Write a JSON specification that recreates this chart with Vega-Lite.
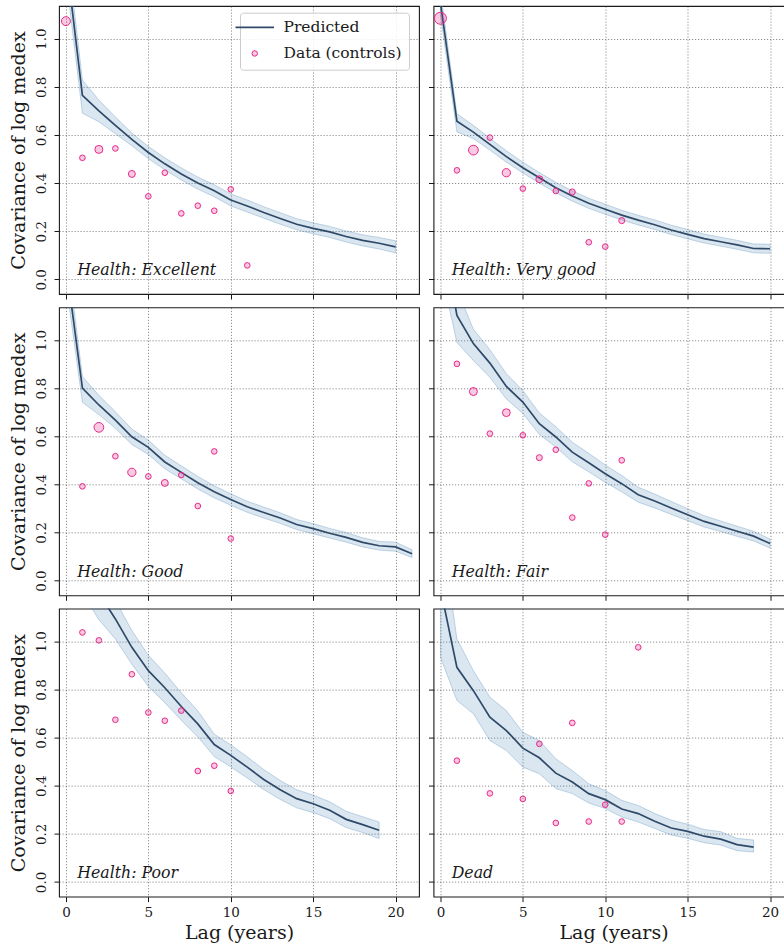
{
"$schema": "https://vega.github.io/schema/vega-lite/v6.json",
"padding": {"left": 8, "top": 5, "right": 0, "bottom": 0},
"background": "white",
"datasets": {
"pred": [
{"panel":"Excellent","lag":0,"cov":1.34,"lo":1.26,"hi":1.42},
{"panel":"Excellent","lag":1,"cov":0.765,"lo":0.69,"hi":0.828},
{"panel":"Excellent","lag":2,"cov":0.70,"lo":0.655,"hi":0.745},
{"panel":"Excellent","lag":3,"cov":0.64,"lo":0.605,"hi":0.675},
{"panel":"Excellent","lag":4,"cov":0.582,"lo":0.555,"hi":0.608},
{"panel":"Excellent","lag":5,"cov":0.527,"lo":0.502,"hi":0.552},
{"panel":"Excellent","lag":6,"cov":0.48,"lo":0.455,"hi":0.505},
{"panel":"Excellent","lag":7,"cov":0.438,"lo":0.413,"hi":0.463},
{"panel":"Excellent","lag":8,"cov":0.40,"lo":0.375,"hi":0.425},
{"panel":"Excellent","lag":9,"cov":0.368,"lo":0.343,"hi":0.393},
{"panel":"Excellent","lag":10,"cov":0.33,"lo":0.305,"hi":0.355},
{"panel":"Excellent","lag":11,"cov":0.305,"lo":0.28,"hi":0.33},
{"panel":"Excellent","lag":12,"cov":0.278,"lo":0.254,"hi":0.302},
{"panel":"Excellent","lag":13,"cov":0.253,"lo":0.229,"hi":0.277},
{"panel":"Excellent","lag":14,"cov":0.229,"lo":0.206,"hi":0.252},
{"panel":"Excellent","lag":15,"cov":0.212,"lo":0.189,"hi":0.235},
{"panel":"Excellent","lag":16,"cov":0.197,"lo":0.174,"hi":0.22},
{"panel":"Excellent","lag":17,"cov":0.178,"lo":0.155,"hi":0.201},
{"panel":"Excellent","lag":18,"cov":0.162,"lo":0.139,"hi":0.185},
{"panel":"Excellent","lag":19,"cov":0.15,"lo":0.126,"hi":0.174},
{"panel":"Excellent","lag":20,"cov":0.135,"lo":0.11,"hi":0.16},
{"panel":"Very good","lag":0,"cov":1.15,"lo":1.1,"hi":1.2},
{"panel":"Very good","lag":1,"cov":0.657,"lo":0.613,"hi":0.688},
{"panel":"Very good","lag":2,"cov":0.612,"lo":0.585,"hi":0.64},
{"panel":"Very good","lag":3,"cov":0.561,"lo":0.537,"hi":0.586},
{"panel":"Very good","lag":4,"cov":0.51,"lo":0.487,"hi":0.534},
{"panel":"Very good","lag":5,"cov":0.464,"lo":0.442,"hi":0.487},
{"panel":"Very good","lag":6,"cov":0.422,"lo":0.4,"hi":0.444},
{"panel":"Very good","lag":7,"cov":0.381,"lo":0.36,"hi":0.403},
{"panel":"Very good","lag":8,"cov":0.346,"lo":0.325,"hi":0.368},
{"panel":"Very good","lag":9,"cov":0.316,"lo":0.295,"hi":0.337},
{"panel":"Very good","lag":10,"cov":0.291,"lo":0.27,"hi":0.312},
{"panel":"Very good","lag":11,"cov":0.267,"lo":0.247,"hi":0.287},
{"panel":"Very good","lag":12,"cov":0.246,"lo":0.226,"hi":0.266},
{"panel":"Very good","lag":13,"cov":0.227,"lo":0.207,"hi":0.247},
{"panel":"Very good","lag":14,"cov":0.205,"lo":0.186,"hi":0.225},
{"panel":"Very good","lag":15,"cov":0.187,"lo":0.168,"hi":0.207},
{"panel":"Very good","lag":16,"cov":0.169,"lo":0.151,"hi":0.188},
{"panel":"Very good","lag":17,"cov":0.156,"lo":0.138,"hi":0.175},
{"panel":"Very good","lag":18,"cov":0.143,"lo":0.125,"hi":0.162},
{"panel":"Very good","lag":19,"cov":0.128,"lo":0.11,"hi":0.147},
{"panel":"Very good","lag":20,"cov":0.127,"lo":0.108,"hi":0.146},
{"panel":"Good","lag":0,"cov":1.32,"lo":1.24,"hi":1.4},
{"panel":"Good","lag":1,"cov":0.8,"lo":0.741,"hi":0.848},
{"panel":"Good","lag":2,"cov":0.73,"lo":0.69,"hi":0.77},
{"panel":"Good","lag":3,"cov":0.667,"lo":0.633,"hi":0.702},
{"panel":"Good","lag":4,"cov":0.598,"lo":0.566,"hi":0.63},
{"panel":"Good","lag":5,"cov":0.554,"lo":0.524,"hi":0.584},
{"panel":"Good","lag":6,"cov":0.493,"lo":0.465,"hi":0.521},
{"panel":"Good","lag":7,"cov":0.45,"lo":0.423,"hi":0.477},
{"panel":"Good","lag":8,"cov":0.407,"lo":0.381,"hi":0.433},
{"panel":"Good","lag":9,"cov":0.369,"lo":0.344,"hi":0.394},
{"panel":"Good","lag":10,"cov":0.337,"lo":0.313,"hi":0.361},
{"panel":"Good","lag":11,"cov":0.307,"lo":0.284,"hi":0.33},
{"panel":"Good","lag":12,"cov":0.283,"lo":0.26,"hi":0.306},
{"panel":"Good","lag":13,"cov":0.26,"lo":0.238,"hi":0.282},
{"panel":"Good","lag":14,"cov":0.233,"lo":0.212,"hi":0.254},
{"panel":"Good","lag":15,"cov":0.216,"lo":0.195,"hi":0.237},
{"panel":"Good","lag":16,"cov":0.197,"lo":0.177,"hi":0.217},
{"panel":"Good","lag":17,"cov":0.18,"lo":0.16,"hi":0.2},
{"panel":"Good","lag":18,"cov":0.159,"lo":0.14,"hi":0.178},
{"panel":"Good","lag":19,"cov":0.145,"lo":0.127,"hi":0.163},
{"panel":"Good","lag":20,"cov":0.14,"lo":0.122,"hi":0.16},
{"panel":"Good","lag":21,"cov":0.112,"lo":0.096,"hi":0.128},
{"panel":"Fair","lag":0,"cov":1.5,"lo":1.3,"hi":1.7},
{"panel":"Fair","lag":1,"cov":1.102,"lo":0.99,"hi":1.21},
{"panel":"Fair","lag":2,"cov":0.985,"lo":0.915,"hi":1.045},
{"panel":"Fair","lag":3,"cov":0.904,"lo":0.845,"hi":0.96},
{"panel":"Fair","lag":4,"cov":0.807,"lo":0.755,"hi":0.86},
{"panel":"Fair","lag":5,"cov":0.742,"lo":0.695,"hi":0.79},
{"panel":"Fair","lag":6,"cov":0.652,"lo":0.608,"hi":0.697},
{"panel":"Fair","lag":7,"cov":0.597,"lo":0.555,"hi":0.64},
{"panel":"Fair","lag":8,"cov":0.534,"lo":0.494,"hi":0.575},
{"panel":"Fair","lag":9,"cov":0.49,"lo":0.452,"hi":0.529},
{"panel":"Fair","lag":10,"cov":0.444,"lo":0.408,"hi":0.481},
{"panel":"Fair","lag":11,"cov":0.403,"lo":0.369,"hi":0.437},
{"panel":"Fair","lag":12,"cov":0.357,"lo":0.326,"hi":0.388},
{"panel":"Fair","lag":13,"cov":0.331,"lo":0.302,"hi":0.36},
{"panel":"Fair","lag":14,"cov":0.302,"lo":0.275,"hi":0.329},
{"panel":"Fair","lag":15,"cov":0.274,"lo":0.249,"hi":0.299},
{"panel":"Fair","lag":16,"cov":0.246,"lo":0.223,"hi":0.27},
{"panel":"Fair","lag":17,"cov":0.226,"lo":0.204,"hi":0.248},
{"panel":"Fair","lag":18,"cov":0.205,"lo":0.184,"hi":0.226},
{"panel":"Fair","lag":19,"cov":0.185,"lo":0.165,"hi":0.205},
{"panel":"Fair","lag":20,"cov":0.154,"lo":0.135,"hi":0.173},
{"panel":"Poor","lag":0,"cov":1.6,"lo":1.45,"hi":1.75},
{"panel":"Poor","lag":1,"cov":1.32,"lo":1.2,"hi":1.44},
{"panel":"Poor","lag":2,"cov":1.2,"lo":1.09,"hi":1.31},
{"panel":"Poor","lag":3,"cov":1.093,"lo":1.01,"hi":1.17},
{"panel":"Poor","lag":4,"cov":0.975,"lo":0.905,"hi":1.045},
{"panel":"Poor","lag":5,"cov":0.878,"lo":0.812,"hi":0.942},
{"panel":"Poor","lag":6,"cov":0.807,"lo":0.745,"hi":0.868},
{"panel":"Poor","lag":7,"cov":0.729,"lo":0.672,"hi":0.786},
{"panel":"Poor","lag":8,"cov":0.657,"lo":0.603,"hi":0.711},
{"panel":"Poor","lag":9,"cov":0.571,"lo":0.521,"hi":0.614},
{"panel":"Poor","lag":10,"cov":0.526,"lo":0.478,"hi":0.57},
{"panel":"Poor","lag":11,"cov":0.477,"lo":0.432,"hi":0.52},
{"panel":"Poor","lag":12,"cov":0.426,"lo":0.384,"hi":0.467},
{"panel":"Poor","lag":13,"cov":0.383,"lo":0.343,"hi":0.422},
{"panel":"Poor","lag":14,"cov":0.346,"lo":0.308,"hi":0.383},
{"panel":"Poor","lag":15,"cov":0.325,"lo":0.288,"hi":0.361},
{"panel":"Poor","lag":16,"cov":0.298,"lo":0.263,"hi":0.333},
{"panel":"Poor","lag":17,"cov":0.26,"lo":0.226,"hi":0.294},
{"panel":"Poor","lag":18,"cov":0.238,"lo":0.205,"hi":0.271},
{"panel":"Poor","lag":19,"cov":0.215,"lo":0.18,"hi":0.249},
{"panel":"Dead","lag":0,"cov":1.22,"lo":0.934,"hi":1.5},
{"panel":"Dead","lag":1,"cov":0.892,"lo":0.754,"hi":1.01},
{"panel":"Dead","lag":2,"cov":0.795,"lo":0.699,"hi":0.878},
{"panel":"Dead","lag":3,"cov":0.685,"lo":0.588,"hi":0.768},
{"panel":"Dead","lag":4,"cov":0.629,"lo":0.546,"hi":0.712},
{"panel":"Dead","lag":5,"cov":0.556,"lo":0.477,"hi":0.622},
{"panel":"Dead","lag":6,"cov":0.516,"lo":0.45,"hi":0.588},
{"panel":"Dead","lag":7,"cov":0.452,"lo":0.388,"hi":0.512},
{"panel":"Dead","lag":8,"cov":0.415,"lo":0.367,"hi":0.463},
{"panel":"Dead","lag":9,"cov":0.367,"lo":0.328,"hi":0.408},
{"panel":"Dead","lag":10,"cov":0.342,"lo":0.305,"hi":0.38},
{"panel":"Dead","lag":11,"cov":0.303,"lo":0.27,"hi":0.339},
{"panel":"Dead","lag":12,"cov":0.284,"lo":0.249,"hi":0.318},
{"panel":"Dead","lag":13,"cov":0.252,"lo":0.222,"hi":0.284},
{"panel":"Dead","lag":14,"cov":0.224,"lo":0.195,"hi":0.257},
{"panel":"Dead","lag":15,"cov":0.21,"lo":0.181,"hi":0.24},
{"panel":"Dead","lag":16,"cov":0.19,"lo":0.163,"hi":0.218},
{"panel":"Dead","lag":17,"cov":0.178,"lo":0.153,"hi":0.209},
{"panel":"Dead","lag":18,"cov":0.155,"lo":0.13,"hi":0.181},
{"panel":"Dead","lag":19,"cov":0.145,"lo":0.124,"hi":0.174}
],
"obs": [
{"panel":"Excellent","lag":0,"cov":1.073,"n":5},
{"panel":"Excellent","lag":1,"cov":0.505,"n":2},
{"panel":"Excellent","lag":2,"cov":0.54,"n":4},
{"panel":"Excellent","lag":3,"cov":0.544,"n":2},
{"panel":"Excellent","lag":4,"cov":0.438,"n":3},
{"panel":"Excellent","lag":5,"cov":0.345,"n":2},
{"panel":"Excellent","lag":6,"cov":0.443,"n":2},
{"panel":"Excellent","lag":7,"cov":0.274,"n":2},
{"panel":"Excellent","lag":8,"cov":0.306,"n":2},
{"panel":"Excellent","lag":9,"cov":0.285,"n":2},
{"panel":"Excellent","lag":10,"cov":0.374,"n":2},
{"panel":"Excellent","lag":11,"cov":0.058,"n":2},
{"panel":"Very good","lag":0,"cov":1.085,"n":9},
{"panel":"Very good","lag":1,"cov":0.453,"n":2},
{"panel":"Very good","lag":2,"cov":0.537,"n":5.9},
{"panel":"Very good","lag":3,"cov":0.589,"n":2},
{"panel":"Very good","lag":4,"cov":0.443,"n":4.3},
{"panel":"Very good","lag":5,"cov":0.377,"n":2},
{"panel":"Very good","lag":6,"cov":0.416,"n":3},
{"panel":"Very good","lag":7,"cov":0.367,"n":2},
{"panel":"Very good","lag":8,"cov":0.363,"n":2.3},
{"panel":"Very good","lag":9,"cov":0.154,"n":2},
{"panel":"Very good","lag":10,"cov":0.136,"n":2},
{"panel":"Very good","lag":11,"cov":0.244,"n":2.3},
{"panel":"Good","lag":1,"cov":0.392,"n":2},
{"panel":"Good","lag":2,"cov":0.637,"n":5.9},
{"panel":"Good","lag":3,"cov":0.517,"n":2},
{"panel":"Good","lag":4,"cov":0.45,"n":4.3},
{"panel":"Good","lag":5,"cov":0.433,"n":2},
{"panel":"Good","lag":6,"cov":0.406,"n":3},
{"panel":"Good","lag":7,"cov":0.439,"n":2},
{"panel":"Good","lag":8,"cov":0.31,"n":2},
{"panel":"Good","lag":9,"cov":0.537,"n":2},
{"panel":"Good","lag":10,"cov":0.175,"n":2},
{"panel":"Fair","lag":1,"cov":0.901,"n":2},
{"panel":"Fair","lag":2,"cov":0.786,"n":4},
{"panel":"Fair","lag":3,"cov":0.611,"n":2},
{"panel":"Fair","lag":4,"cov":0.698,"n":3.8},
{"panel":"Fair","lag":5,"cov":0.604,"n":2},
{"panel":"Fair","lag":6,"cov":0.511,"n":2.3},
{"panel":"Fair","lag":7,"cov":0.544,"n":2},
{"panel":"Fair","lag":8,"cov":0.262,"n":2},
{"panel":"Fair","lag":9,"cov":0.404,"n":2},
{"panel":"Fair","lag":10,"cov":0.191,"n":2},
{"panel":"Fair","lag":11,"cov":0.5,"n":2},
{"panel":"Poor","lag":1,"cov":1.037,"n":2},
{"panel":"Poor","lag":2,"cov":1.004,"n":2},
{"panel":"Poor","lag":3,"cov":0.674,"n":2},
{"panel":"Poor","lag":4,"cov":0.863,"n":2},
{"panel":"Poor","lag":5,"cov":0.704,"n":2},
{"panel":"Poor","lag":6,"cov":0.67,"n":2},
{"panel":"Poor","lag":7,"cov":0.712,"n":2},
{"panel":"Poor","lag":8,"cov":0.461,"n":2},
{"panel":"Poor","lag":9,"cov":0.483,"n":2},
{"panel":"Poor","lag":10,"cov":0.378,"n":2},
{"panel":"Dead","lag":1,"cov":0.504,"n":2},
{"panel":"Dead","lag":3,"cov":0.368,"n":2},
{"panel":"Dead","lag":5,"cov":0.345,"n":2},
{"panel":"Dead","lag":6,"cov":0.574,"n":2},
{"panel":"Dead","lag":7,"cov":0.245,"n":2},
{"panel":"Dead","lag":8,"cov":0.661,"n":2},
{"panel":"Dead","lag":9,"cov":0.251,"n":2},
{"panel":"Dead","lag":10,"cov":0.321,"n":2},
{"panel":"Dead","lag":11,"cov":0.251,"n":2},
{"panel":"Dead","lag":12,"cov":0.975,"n":2}
]
},
"spacing": 5.3,
"vconcat": [
{"hconcat": [
 {"width": 360, "height": 288, "layer": [
  {"data": {"name": "pred"}, "transform": [{"filter": "datum.panel === 'Excellent'"}],
   "mark": {"type": "area", "fill": "#4682b4", "fillOpacity": 0.2, "stroke": "#4682b4", "strokeOpacity": 0.3, "strokeWidth": 1, "clip": true},
   "encoding": {"x": {"field": "lag", "type": "quantitative", "scale": {"domain": [-0.42, 21.42], "nice": false, "zero": false}, "axis": {"values": [0,5,10,15,20], "labels": false, "title": null}},
    "y": {"field": "lo", "type": "quantitative", "scale": {"domain": [-0.061, 1.136], "nice": false, "zero": false}, "axis": {"values": [0,0.2,0.4,0.6,0.8,1.0], "format": ".1f", "title": "Covariance of log medex"}},
    "y2": {"field": "hi"}}},
  {"data": {"name": "pred"}, "transform": [{"filter": "datum.panel === 'Excellent'"}],
   "mark": {"type": "line", "strokeWidth": 1.7, "clip": true},
   "encoding": {"x": {"field": "lag", "type": "quantitative"}, "y": {"field": "cov", "type": "quantitative"},
    "stroke": {"datum": "Predicted", "type": "nominal", "scale": {"domain": ["Predicted", "Data (controls)"], "range": ["#2e4a68", "#e7298a"]},
     "legend": {"title": null, "orient": "none", "legendX": 181, "legendY": 6.7, "labelFont": "DejaVu Serif", "labelFontSize": 15.5, "labelColor": "#1a1a1a", "strokeColor": "#cccccc", "fillColor": "rgba(255,255,255,0.85)", "cornerRadius": 3, "padding": 7, "labelOffset": 21, "rowPadding": 9,
      "encode": {"symbols": {"update": {
        "shape": {"signal": "datum.value === 'Predicted' ? 'stroke' : 'circle'"},
        "size": {"signal": "datum.value === 'Predicted' ? 1480 : 30"},
        "strokeWidth": {"signal": "datum.value === 'Predicted' ? 1.7 : 1"},
        "fill": {"signal": "datum.value === 'Predicted' ? 'transparent' : 'rgba(231,41,138,0.25)'"},
        "opacity": {"value": 1}}}}}}}},
  {"data": {"name": "obs"}, "transform": [{"filter": "datum.panel === 'Excellent'"}],
   "mark": {"type": "point", "shape": "circle", "filled": true, "fill": "#e7298a", "fillOpacity": 0.25, "strokeWidth": 1, "opacity": 1, "clip": true},
   "encoding": {"x": {"field": "lag", "type": "quantitative"}, "y": {"field": "cov", "type": "quantitative"},
    "size": {"field": "n", "type": "quantitative", "scale": {"domain": [0, 10], "range": [0, 160]}, "legend": null},
    "stroke": {"datum": "Data (controls)", "type": "nominal"}}},
  {"data": {"values": [{"label": "Health: Excellent"}]},
   "mark": {"type": "text", "font": "DejaVu Serif", "fontStyle": "italic", "fontSize": 15.8, "align": "left", "baseline": "alphabetic", "color": "#1a1a1a"},
   "encoding": {"x": {"datum": 0.68, "type": "quantitative"}, "y": {"datum": 0.017, "type": "quantitative"}, "text": {"field": "label"}}}
 ]},
 {"width": 360, "height": 288, "layer": [
  {"data": {"name": "pred"}, "transform": [{"filter": "datum.panel === 'Very good'"}],
   "mark": {"type": "area", "fill": "#4682b4", "fillOpacity": 0.2, "stroke": "#4682b4", "strokeOpacity": 0.3, "strokeWidth": 1, "clip": true},
   "encoding": {"x": {"field": "lag", "type": "quantitative", "scale": {"domain": [-0.42, 21.42], "nice": false, "zero": false}, "axis": {"values": [0,5,10,15,20], "labels": false, "title": null}},
    "y": {"field": "lo", "type": "quantitative", "scale": {"domain": [-0.061, 1.136], "nice": false, "zero": false}, "axis": {"values": [0,0.2,0.4,0.6,0.8,1.0], "labels": false, "title": null}},
    "y2": {"field": "hi"}}},
  {"data": {"name": "pred"}, "transform": [{"filter": "datum.panel === 'Very good'"}],
   "mark": {"type": "line", "color": "#2e4a68", "strokeWidth": 1.7, "clip": true},
   "encoding": {"x": {"field": "lag", "type": "quantitative"}, "y": {"field": "cov", "type": "quantitative"}}},
  {"data": {"name": "obs"}, "transform": [{"filter": "datum.panel === 'Very good'"}],
   "mark": {"type": "point", "shape": "circle", "filled": true, "fill": "#e7298a", "fillOpacity": 0.25, "stroke": "#e7298a", "strokeWidth": 1, "opacity": 1, "clip": true},
   "encoding": {"x": {"field": "lag", "type": "quantitative"}, "y": {"field": "cov", "type": "quantitative"},
    "size": {"field": "n", "type": "quantitative", "scale": {"domain": [0, 10], "range": [0, 160]}, "legend": null}}},
  {"data": {"values": [{"label": "Health: Very good"}]},
   "mark": {"type": "text", "font": "DejaVu Serif", "fontStyle": "italic", "fontSize": 15.8, "align": "left", "baseline": "alphabetic", "color": "#1a1a1a"},
   "encoding": {"x": {"datum": 0.68, "type": "quantitative"}, "y": {"datum": 0.017, "type": "quantitative"}, "text": {"field": "label"}}}
 ]}
], "spacing": 6.5},
{"hconcat": [
 {"width": 360, "height": 288, "layer": [
  {"data": {"name": "pred"}, "transform": [{"filter": "datum.panel === 'Good'"}],
   "mark": {"type": "area", "fill": "#4682b4", "fillOpacity": 0.2, "stroke": "#4682b4", "strokeOpacity": 0.3, "strokeWidth": 1, "clip": true},
   "encoding": {"x": {"field": "lag", "type": "quantitative", "scale": {"domain": [-0.42, 21.42], "nice": false, "zero": false}, "axis": {"values": [0,5,10,15,20], "labels": false, "title": null}},
    "y": {"field": "lo", "type": "quantitative", "scale": {"domain": [-0.061, 1.136], "nice": false, "zero": false}, "axis": {"values": [0,0.2,0.4,0.6,0.8,1.0], "format": ".1f", "title": "Covariance of log medex"}},
    "y2": {"field": "hi"}}},
  {"data": {"name": "pred"}, "transform": [{"filter": "datum.panel === 'Good'"}],
   "mark": {"type": "line", "color": "#2e4a68", "strokeWidth": 1.7, "clip": true},
   "encoding": {"x": {"field": "lag", "type": "quantitative"}, "y": {"field": "cov", "type": "quantitative"}}},
  {"data": {"name": "obs"}, "transform": [{"filter": "datum.panel === 'Good'"}],
   "mark": {"type": "point", "shape": "circle", "filled": true, "fill": "#e7298a", "fillOpacity": 0.25, "stroke": "#e7298a", "strokeWidth": 1, "opacity": 1, "clip": true},
   "encoding": {"x": {"field": "lag", "type": "quantitative"}, "y": {"field": "cov", "type": "quantitative"},
    "size": {"field": "n", "type": "quantitative", "scale": {"domain": [0, 10], "range": [0, 160]}, "legend": null}}},
  {"data": {"values": [{"label": "Health: Good"}]},
   "mark": {"type": "text", "font": "DejaVu Serif", "fontStyle": "italic", "fontSize": 15.8, "align": "left", "baseline": "alphabetic", "color": "#1a1a1a"},
   "encoding": {"x": {"datum": 0.68, "type": "quantitative"}, "y": {"datum": 0.017, "type": "quantitative"}, "text": {"field": "label"}}}
 ]},
 {"width": 360, "height": 288, "layer": [
  {"data": {"name": "pred"}, "transform": [{"filter": "datum.panel === 'Fair'"}],
   "mark": {"type": "area", "fill": "#4682b4", "fillOpacity": 0.2, "stroke": "#4682b4", "strokeOpacity": 0.3, "strokeWidth": 1, "clip": true},
   "encoding": {"x": {"field": "lag", "type": "quantitative", "scale": {"domain": [-0.42, 21.42], "nice": false, "zero": false}, "axis": {"values": [0,5,10,15,20], "labels": false, "title": null}},
    "y": {"field": "lo", "type": "quantitative", "scale": {"domain": [-0.061, 1.136], "nice": false, "zero": false}, "axis": {"values": [0,0.2,0.4,0.6,0.8,1.0], "labels": false, "title": null}},
    "y2": {"field": "hi"}}},
  {"data": {"name": "pred"}, "transform": [{"filter": "datum.panel === 'Fair'"}],
   "mark": {"type": "line", "color": "#2e4a68", "strokeWidth": 1.7, "clip": true},
   "encoding": {"x": {"field": "lag", "type": "quantitative"}, "y": {"field": "cov", "type": "quantitative"}}},
  {"data": {"name": "obs"}, "transform": [{"filter": "datum.panel === 'Fair'"}],
   "mark": {"type": "point", "shape": "circle", "filled": true, "fill": "#e7298a", "fillOpacity": 0.25, "stroke": "#e7298a", "strokeWidth": 1, "opacity": 1, "clip": true},
   "encoding": {"x": {"field": "lag", "type": "quantitative"}, "y": {"field": "cov", "type": "quantitative"},
    "size": {"field": "n", "type": "quantitative", "scale": {"domain": [0, 10], "range": [0, 160]}, "legend": null}}},
  {"data": {"values": [{"label": "Health: Fair"}]},
   "mark": {"type": "text", "font": "DejaVu Serif", "fontStyle": "italic", "fontSize": 15.8, "align": "left", "baseline": "alphabetic", "color": "#1a1a1a"},
   "encoding": {"x": {"datum": 0.68, "type": "quantitative"}, "y": {"datum": 0.017, "type": "quantitative"}, "text": {"field": "label"}}}
 ]}
], "spacing": 6.5},
{"hconcat": [
 {"width": 360, "height": 288, "layer": [
  {"data": {"name": "pred"}, "transform": [{"filter": "datum.panel === 'Poor'"}],
   "mark": {"type": "area", "fill": "#4682b4", "fillOpacity": 0.2, "stroke": "#4682b4", "strokeOpacity": 0.3, "strokeWidth": 1, "clip": true},
   "encoding": {"x": {"field": "lag", "type": "quantitative", "scale": {"domain": [-0.42, 21.42], "nice": false, "zero": false}, "axis": {"values": [0,5,10,15,20], "title": "Lag (years)"}},
    "y": {"field": "lo", "type": "quantitative", "scale": {"domain": [-0.061, 1.136], "nice": false, "zero": false}, "axis": {"values": [0,0.2,0.4,0.6,0.8,1.0], "format": ".1f", "title": "Covariance of log medex"}},
    "y2": {"field": "hi"}}},
  {"data": {"name": "pred"}, "transform": [{"filter": "datum.panel === 'Poor'"}],
   "mark": {"type": "line", "color": "#2e4a68", "strokeWidth": 1.7, "clip": true},
   "encoding": {"x": {"field": "lag", "type": "quantitative"}, "y": {"field": "cov", "type": "quantitative"}}},
  {"data": {"name": "obs"}, "transform": [{"filter": "datum.panel === 'Poor'"}],
   "mark": {"type": "point", "shape": "circle", "filled": true, "fill": "#e7298a", "fillOpacity": 0.25, "stroke": "#e7298a", "strokeWidth": 1, "opacity": 1, "clip": true},
   "encoding": {"x": {"field": "lag", "type": "quantitative"}, "y": {"field": "cov", "type": "quantitative"},
    "size": {"field": "n", "type": "quantitative", "scale": {"domain": [0, 10], "range": [0, 160]}, "legend": null}}},
  {"data": {"values": [{"label": "Health: Poor"}]},
   "mark": {"type": "text", "font": "DejaVu Serif", "fontStyle": "italic", "fontSize": 15.8, "align": "left", "baseline": "alphabetic", "color": "#1a1a1a"},
   "encoding": {"x": {"datum": 0.68, "type": "quantitative"}, "y": {"datum": 0.017, "type": "quantitative"}, "text": {"field": "label"}}}
 ]},
 {"width": 360, "height": 288, "layer": [
  {"data": {"name": "pred"}, "transform": [{"filter": "datum.panel === 'Dead'"}],
   "mark": {"type": "area", "fill": "#4682b4", "fillOpacity": 0.2, "stroke": "#4682b4", "strokeOpacity": 0.3, "strokeWidth": 1, "clip": true},
   "encoding": {"x": {"field": "lag", "type": "quantitative", "scale": {"domain": [-0.42, 21.42], "nice": false, "zero": false}, "axis": {"values": [0,5,10,15,20], "title": "Lag (years)"}},
    "y": {"field": "lo", "type": "quantitative", "scale": {"domain": [-0.061, 1.136], "nice": false, "zero": false}, "axis": {"values": [0,0.2,0.4,0.6,0.8,1.0], "labels": false, "title": null}},
    "y2": {"field": "hi"}}},
  {"data": {"name": "pred"}, "transform": [{"filter": "datum.panel === 'Dead'"}],
   "mark": {"type": "line", "color": "#2e4a68", "strokeWidth": 1.7, "clip": true},
   "encoding": {"x": {"field": "lag", "type": "quantitative"}, "y": {"field": "cov", "type": "quantitative"}}},
  {"data": {"name": "obs"}, "transform": [{"filter": "datum.panel === 'Dead'"}],
   "mark": {"type": "point", "shape": "circle", "filled": true, "fill": "#e7298a", "fillOpacity": 0.25, "stroke": "#e7298a", "strokeWidth": 1, "opacity": 1, "clip": true},
   "encoding": {"x": {"field": "lag", "type": "quantitative"}, "y": {"field": "cov", "type": "quantitative"},
    "size": {"field": "n", "type": "quantitative", "scale": {"domain": [0, 10], "range": [0, 160]}, "legend": null}}},
  {"data": {"values": [{"label": "Dead"}]},
   "mark": {"type": "text", "font": "DejaVu Serif", "fontStyle": "italic", "fontSize": 15.8, "align": "left", "baseline": "alphabetic", "color": "#1a1a1a"},
   "encoding": {"x": {"datum": 0.68, "type": "quantitative"}, "y": {"datum": 0.017, "type": "quantitative"}, "text": {"field": "label"}}}
 ]}
], "spacing": 6.5}
],
"config": {
 "font": "DejaVu Serif",
 "view": {"stroke": "#1a1a1a", "strokeWidth": 1.1},
 "axis": {"domain": false, "grid": true, "gridColor": "#444444", "gridDash": [1.2, 1.8], "gridWidth": 0.8, "gridOpacity": 0.75, "tickColor": "#1a1a1a", "tickSize": 5, "tickWidth": 1, "labelFont": "DejaVu Serif", "labelFontSize": 13.5, "labelColor": "#1a1a1a", "titleFont": "DejaVu Serif", "titleFontSize": 19, "titleFontWeight": "normal", "titleColor": "#1a1a1a"},
 "axisX": {"labelPadding": 4, "titlePadding": 4},
 "axisY": {"labelAngle": -90, "labelAlign": "center", "labelBaseline": "bottom", "labelPadding": 6, "titlePadding": 6}
}
}
